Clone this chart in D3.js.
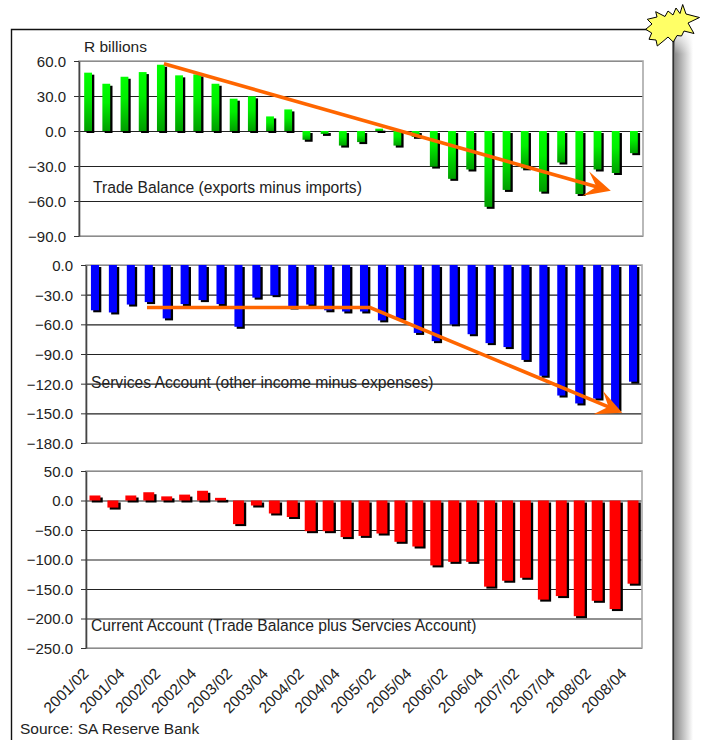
<!DOCTYPE html>
<html>
<head>
<meta charset="utf-8">
<script src="https://cdn.jsdelivr.net/npm/d3@7"></script>
<style>
    html, body { margin: 0; padding: 0; background: #fff; overflow: hidden; }
    text { font-family: "Liberation Sans", Arial, sans-serif; fill: #222; }
</style>
</head>
<body>
<div id="chart"></div>
<script>
const quarters = ["2001/02", "2001/03", "2001/04", "2002/01", "2002/02", "2002/03", "2002/04", "2003/01",
    "2003/02", "2003/03", "2003/04", "2004/01", "2004/02", "2004/03", "2004/04", "2005/01",
    "2005/02", "2005/03", "2005/04", "2006/01", "2006/02", "2006/03", "2006/04", "2007/01",
    "2007/02", "2007/03", "2007/04", "2008/01", "2008/02", "2008/03", "2008/04"];

const tradeBalance = [50, 40.5, 46.5, 50.5, 56.8, 47.7, 48.5, 40.5, 27.7, 29.7, 12.5, 18.5, -7.5, -2.5, -12.5,
    -9.5, 2, -12.5, -5, -30.5, -41, -33, -65, -50.5, -32, -52, -27, -54, -33, -36, -19];
const servicesAccount = [-45.8, -48, -40, -37.5, -54, -39.5, -35.5, -39.5, -62.5, -33, -30.5, -43, -40, -45.8, -47,
    -47, -56, -54, -68.7, -77, -60, -70, -79, -83, -96, -112, -132, -140, -135, -146, -118];
const currentAccount = [8.5, -12, 8.5, 14, 7, 10, 16.5, 4.5, -40, -8.5, -22, -28, -52, -52, -62,
    -60, -56, -70, -78, -110, -104, -104, -146, -136, -131, -168, -162, -196, -170, -184, -141];

const tradeTicks = [60, 30, 0, -30, -60, -90];
const servicesTicks = [0, -30, -60, -90, -120, -150, -180];
const currentTicks = [50, 0, -50, -100, -150, -200, -250];

// annotation arrows, [bar position, value]
const tradeArrow = [[4.17, 57.6], [28.73, -51.2]];
const servicesArrow = [[2.9, -43], [15.34, -43], [29.4, -149.3]];

const starPoints = [[655.7, 11.7], [665, 16.5], [668, 11], [673, 15], [676, 8], [680, 13.5], [682.7, 4.5], [686, 14],
    [699.5, 17.5], [688, 23], [694, 33.5], [684, 31], [681.5, 36], [677, 35.5], [673.3, 42], [668, 37], [664, 40.5],
    [657.3, 46], [656, 40], [649, 39.3], [651.7, 33], [645.7, 29.3], [652, 24], [647.3, 19.3], [657, 17]];

const svg = d3.select('#chart')
    .append('svg')
    .attr('width', 708)
    .attr('height', 740)
    .style('display', 'block');

const defs = svg.append('defs');

const greenGrad = defs.append('linearGradient')
    .attr('id', 'green-bar')
    .attr('x1', 0).attr('y1', 0).attr('x2', 0).attr('y2', 1);
greenGrad.append('stop').attr('offset', '0%').attr('stop-color', '#00ff00');
greenGrad.append('stop').attr('offset', '40%').attr('stop-color', '#00ee00');
greenGrad.append('stop').attr('offset', '100%').attr('stop-color', '#009e00');

const shadowGrad = defs.append('linearGradient')
    .attr('id', 'frame-shadow')
    .attr('x1', 0).attr('y1', 0).attr('x2', 1).attr('y2', 0);
shadowGrad.append('stop').attr('offset', '0%').attr('stop-color', '#8c8c8c');
shadowGrad.append('stop').attr('offset', '100%').attr('stop-color', '#ffffff');

const fadeGrad = defs.append('linearGradient')
    .attr('id', 'shadow-fade')
    .attr('x1', 0).attr('y1', 0).attr('x2', 0).attr('y2', 1);
fadeGrad.append('stop').attr('offset', '0%').attr('stop-color', '#fff').attr('stop-opacity', 1);
fadeGrad.append('stop').attr('offset', '100%').attr('stop-color', '#fff').attr('stop-opacity', 0);

const headBack = 13;
const marker = defs.append('marker')
    .attr('id', 'arrow-head')
    .attr('markerUnits', 'userSpaceOnUse')
    .attr('markerWidth', 30)
    .attr('markerHeight', 30)
    .attr('viewBox', '-26 -15 30 30')
    .attr('refX', -headBack)
    .attr('refY', 0)
    .attr('orient', 'auto');
marker.append('path')
    .attr('d', 'M0,0L-26,-12.5L-15,0L-26,12.5Z')
    .attr('fill', '#ff6600');

// outer frame and its soft shadow
svg.append('rect').attr('x', 675).attr('y', 30).attr('width', 18).attr('height', 710).attr('fill', 'url(#frame-shadow)');
svg.append('rect').attr('x', 675).attr('y', 30).attr('width', 18).attr('height', 24).attr('fill', 'url(#shadow-fade)');
svg.append('path')
    .attr('d', 'M11.5,740V29.5H673.5V740')
    .attr('fill', 'none')
    .attr('stroke', '#111')
    .attr('stroke-width', 1.4);
svg.append('line')
    .attr('x1', 673.5).attr('x2', 673.5).attr('y1', 30).attr('y2', 740)
    .attr('stroke', '#333').attr('stroke-width', 2);

function drawPanel(opts) {
    const x = d3.scaleBand()
        .domain(quarters)
        .range([opts.left, opts.right])
        .paddingInner(opts.padding)
        .paddingOuter(opts.padding / 2);
    const y = d3.scaleLinear()
        .domain(d3.extent(opts.ticks))
        .range([opts.bottom, opts.top]);

    const g = svg.append('g').attr('class', 'panel');

    // grid
    g.append('g')
        .attr('transform', 'translate(' + opts.left + ',0)')
        .call(d3.axisLeft(y).tickValues(opts.ticks).tickSize(-(opts.right - opts.left)).tickFormat(''))
        .call(a => a.select('.domain').remove())
        .call(a => a.selectAll('line').attr('stroke', '#222').attr('stroke-width', 1.1));

    g.append('rect')
        .attr('x', opts.left)
        .attr('y', opts.top)
        .attr('width', opts.right - opts.left)
        .attr('height', opts.bottom - opts.top)
        .attr('fill', 'none')
        .attr('stroke', '#a8a8a8')
        .attr('stroke-width', 1.6);

    // left axis
    const axis = g.append('g')
        .attr('transform', 'translate(' + opts.left + ',0)')
        .call(d3.axisLeft(y).tickValues(opts.ticks).tickSize(5).tickSizeOuter(0).tickPadding(8).tickFormat(d3.format('.1f')));
    axis.select('.domain').attr('stroke', '#444').attr('stroke-width', 1.6);
    axis.selectAll('line').attr('stroke', '#333');
    axis.selectAll('text').style('font-size', '15px').attr('dy', '0.36em');
    axis.attr('font-family', null).attr('font-size', null);

    const rows = quarters.map((q, i) => ({ q: q, v: opts.values[i] }));

    // bar shadows
    g.append('g').selectAll('rect')
        .data(rows)
        .enter()
        .append('rect')
        .attr('x', d => x(d.q) + 2.3)
        .attr('y', d => Math.min(y(d.v), y(0)) + 2)
        .attr('width', x.bandwidth())
        .attr('height', d => Math.abs(y(d.v) - y(0)))
        .attr('fill', '#000');

    g.append('g').selectAll('rect')
        .data(rows)
        .enter()
        .append('rect')
        .attr('x', d => x(d.q))
        .attr('y', d => Math.min(y(d.v), y(0)))
        .attr('width', x.bandwidth())
        .attr('height', d => Math.abs(y(d.v) - y(0)))
        .attr('fill', opts.fill);

    g.append('text')
        .attr('x', opts.labelX)
        .attr('y', y(opts.labelValue))
        .style('font-size', '15.65px')
        .text(opts.label);

    return { x: x, y: y };
}

const tradePanel = drawPanel({
    values: tradeBalance, ticks: tradeTicks, fill: 'url(#green-bar)',
    left: 79, right: 643, top: 61, bottom: 236, padding: 0.57,
    label: 'Trade Balance (exports minus imports)', labelX: 93, labelValue: -53
});
const servicesPanel = drawPanel({
    values: servicesAccount, ticks: servicesTicks, fill: '#0000ff',
    left: 86, right: 642, top: 265, bottom: 443, padding: 0.55,
    label: 'Services Account (other income minus expenses)', labelX: 91, labelValue: -124.5
});
const currentPanel = drawPanel({
    values: currentAccount, ticks: currentTicks, fill: '#ff0000',
    left: 86, right: 642, top: 471, bottom: 648, padding: 0.39,
    label: 'Current Account (Trade Balance plus Servcies Account)', labelX: 91, labelValue: -222
});

// rotated period labels, every second quarter
const labelQuarters = quarters.filter((q, i) => i % 2 === 0);
svg.append('g').selectAll('text')
    .data(labelQuarters)
    .enter()
    .append('text')
    .attr('transform', d => 'translate(' + (currentPanel.x(d) + currentPanel.x.bandwidth() / 2 - 13) + ',667) rotate(-45)')
    .attr('text-anchor', 'end')
    .attr('dy', '0.7em')
    .style('font-size', '15.5px')
    .text(d => d);

svg.append('text')
    .attr('x', 84).attr('y', 52)
    .style('font-size', '15.5px')
    .text('R billions');

svg.append('text')
    .attr('x', 20).attr('y', 734)
    .style('font-size', '15.5px')
    .text('Source: SA Reserve Bank');

// orange trend arrows, the line stops inside the head so the tip stays sharp
function drawArrow(points, panel) {
    const step = panel.x.step();
    const x0 = panel.x.range()[0];
    const px = points.map(d => [x0 + step * (d[0] + 0.5), panel.y(d[1])]);
    const a = px[px.length - 2];
    const b = px[px.length - 1];
    const len = Math.hypot(b[0] - a[0], b[1] - a[1]);
    px[px.length - 1] = [b[0] - (b[0] - a[0]) * headBack / len, b[1] - (b[1] - a[1]) * headBack / len];
    svg.append('path')
        .attr('d', d3.line()(px))
        .attr('fill', 'none')
        .attr('stroke', '#ff6600')
        .attr('stroke-width', 3.6)
        .attr('marker-end', 'url(#arrow-head)');
}
drawArrow(tradeArrow, tradePanel);
drawArrow(servicesArrow, servicesPanel);

svg.append('polygon')
    .attr('points', starPoints.map(p => p.join(',')).join(' '))
    .attr('fill', '#ffff66')
    .attr('stroke', '#000')
    .attr('stroke-width', 1);
</script>
</body>
</html>
